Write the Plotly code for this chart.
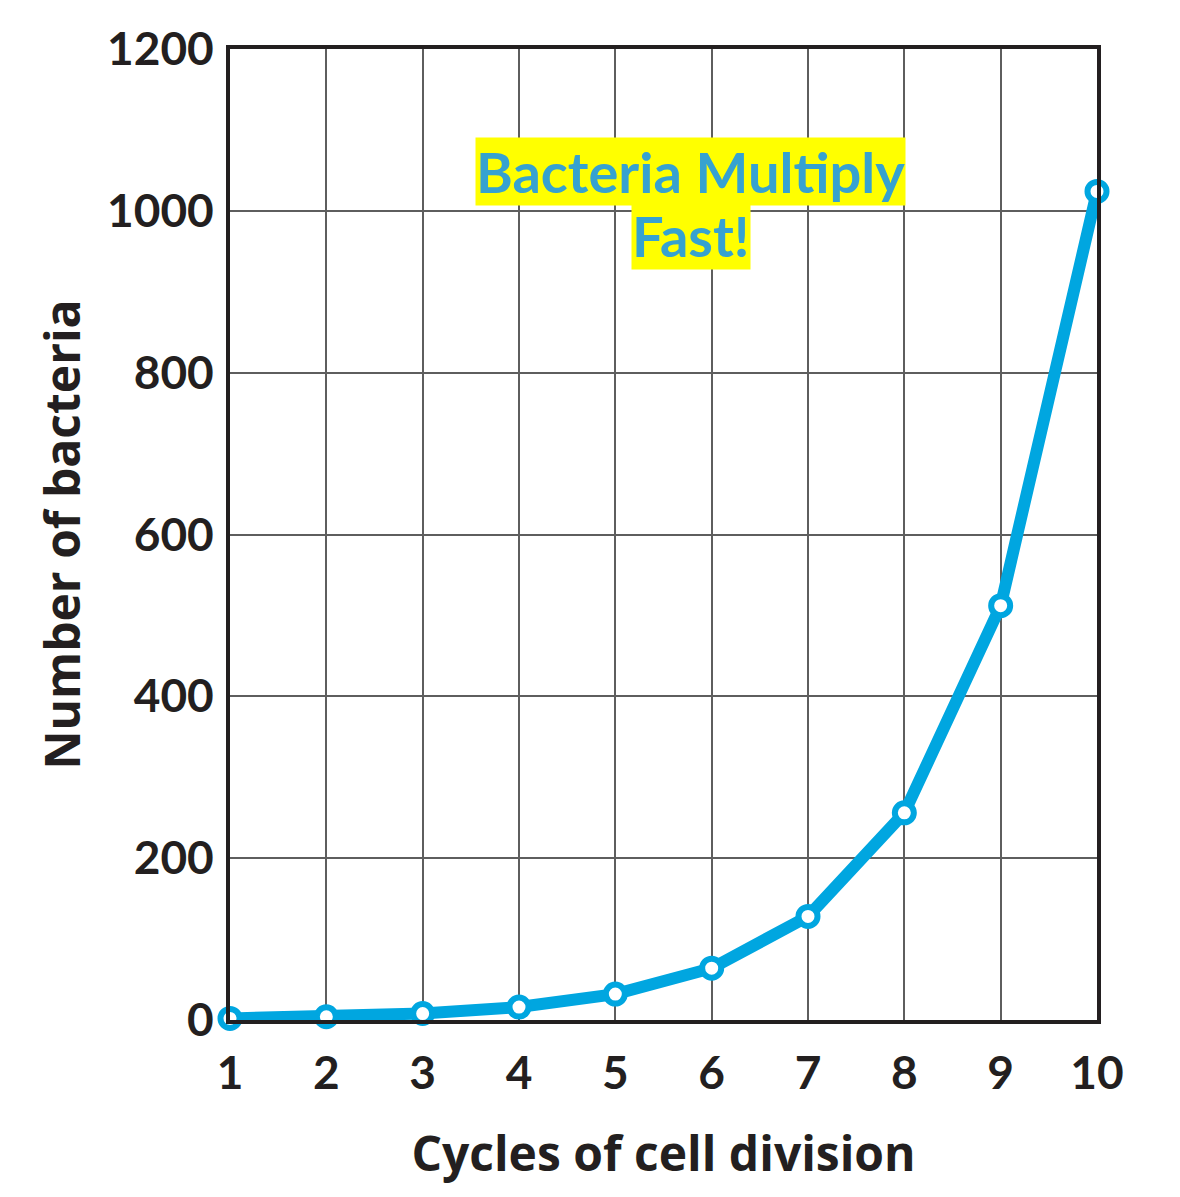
import plotly.graph_objects as go

cycles = [1, 2, 3, 4, 5, 6, 7, 8, 9, 10]
bacteria = [2, 4, 8, 16, 32, 64, 128, 256, 512, 1024]
x_ticks = [1, 2, 3, 4, 5, 6, 7, 8, 9, 10]
y_ticks = [0, 200, 400, 600, 800, 1000, 1200]
title_lines = ["Bacteria Multiply", "Fast!"]

blue = "#00a6e0"
ink = "#231f20"
fig = go.Figure()
fig.add_trace(go.Scatter(
    x=cycles, y=bacteria, mode="lines+markers",
    line=dict(color=blue, width=12),
    marker=dict(symbol="circle", size=19, color="white", line=dict(color=blue, width=6)),
    cliponaxis=False, showlegend=False,
))

tick_family = "Lato, sans-serif"
title_family = "Open Sans, sans-serif"
fig.update_layout(
    width=1180, height=1197,
    margin=dict(l=222, r=91, t=39, b=185),
    paper_bgcolor="white", plot_bgcolor="white",
    font=dict(family=tick_family, color=ink),
    xaxis=dict(
        range=[1, 10], tickvals=x_ticks, ticktext=[str(v) for v in x_ticks],
        showgrid=True, gridcolor="#5e5e5e", gridwidth=1.8,
        showline=True, linecolor=ink, linewidth=4, mirror=True,
        zeroline=False, ticks="", ticklabelstandoff=10,
        tickfont=dict(size=46, family=tick_family, weight="bold", color=ink),
        title=dict(text="Cycles of cell division", standoff=40,
                   font=dict(size=48, family=title_family, weight="bold", color=ink)),
    ),
    yaxis=dict(
        range=[0, 1200], tickvals=y_ticks, ticktext=[str(v) for v in y_ticks],
        showgrid=True, gridcolor="#5e5e5e", gridwidth=1.8,
        showline=True, linecolor=ink, linewidth=4, mirror=True,
        zeroline=False, ticks="", ticklabelstandoff=3,
        tickfont=dict(size=46, family=tick_family, weight="bold", color=ink),
        title=dict(text="Number of bacteria", standoff=12,
                   font=dict(size=48, family=title_family, weight="bold", color=ink)),
    ),
    annotations=[
        dict(xref="paper", yref="paper", x=0.5317, y=0.8736, xanchor="center", yanchor="middle",
             text=title_lines[0], showarrow=False, bgcolor="#ffff00", borderpad=0,
             font=dict(size=56, family="Lato, sans-serif", weight="bold", color="#36a2d0")),
        dict(xref="paper", yref="paper", x=0.5317, y=0.8078, xanchor="center", yanchor="middle",
             text=title_lines[1], showarrow=False, bgcolor="#ffff00", borderpad=0,
             font=dict(size=56, family="Lato, sans-serif", weight="bold", color="#36a2d0")),
    ],
)

fig.write_html("out.html")
